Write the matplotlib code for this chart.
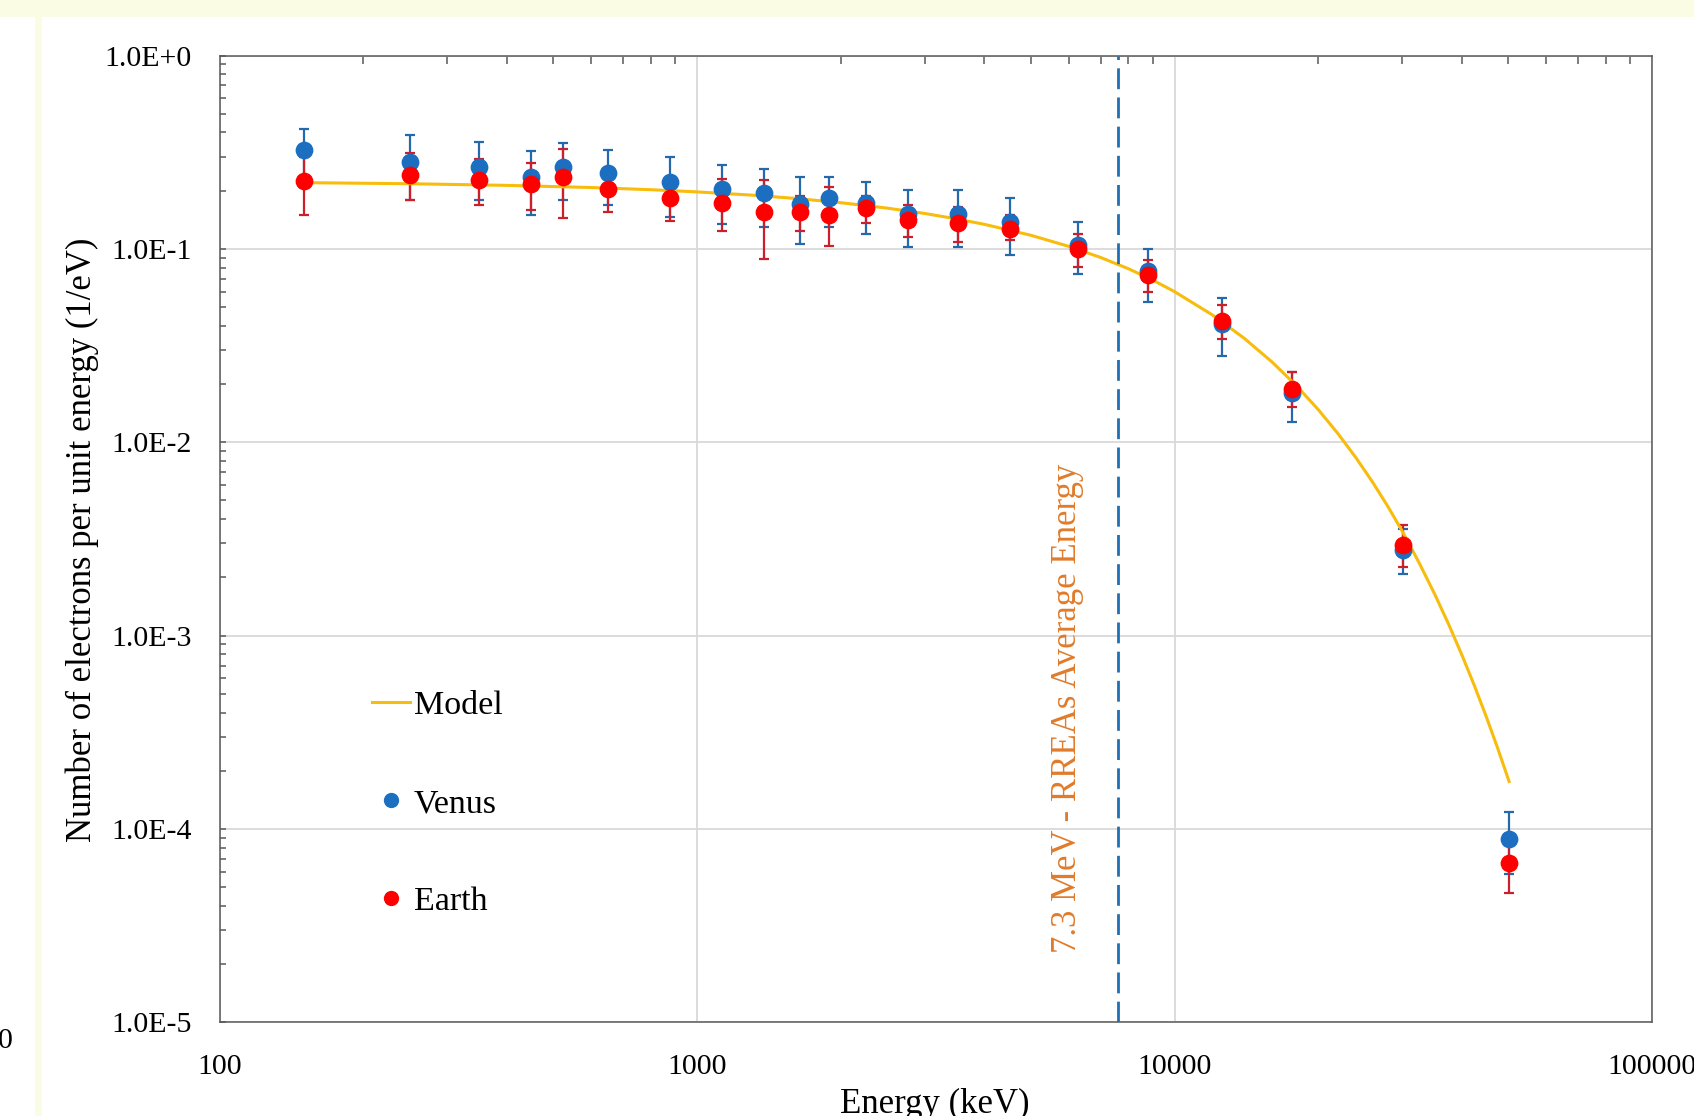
import matplotlib
matplotlib.use("Agg")
import numpy as np
import matplotlib.pyplot as plt
from matplotlib.ticker import LogLocator, FixedLocator, FixedFormatter, NullFormatter
from matplotlib.patches import Rectangle

# ---------------- data ----------------
energy = [150, 250, 350, 450, 525, 650, 880, 1130, 1380, 1640, 1890, 2260,
          2770, 3520, 4520, 6280, 8780, 12600, 17600, 30100, 50200]

venus = [0.323, 0.283, 0.265, 0.235, 0.265, 0.246, 0.222, 0.203, 0.194, 0.170,
         0.183, 0.172, 0.151, 0.151, 0.138, 0.105, 0.0767, 0.041, 0.0180,
         0.00278, 8.9e-5]
venus_lo = [0.23, 0.179, 0.179, 0.149, 0.179, 0.168, 0.147, 0.134, 0.130, 0.106,
            0.130, 0.120, 0.102, 0.102, 0.0925, 0.0738, 0.0531, 0.0279, 0.0127,
            0.00208, 5.83e-5]
venus_hi = [0.415, 0.388, 0.357, 0.321, 0.352, 0.325, 0.300, 0.273, 0.260, 0.235,
            0.234, 0.222, 0.201, 0.201, 0.183, 0.138, 0.100, 0.0554, 0.0231,
            0.00356, 1.22e-4]

earth = [0.224, 0.241, 0.226, 0.216, 0.234, 0.203, 0.184, 0.173, 0.155, 0.155,
         0.150, 0.162, 0.141, 0.136, 0.127, 0.0994, 0.0729, 0.0425, 0.01875,
         0.00295, 6.65e-5]
earth_lo = [0.150, 0.179, 0.168, 0.158, 0.144, 0.155, 0.139, 0.123, 0.0883, 0.123,
            0.104, 0.136, 0.115, 0.108, 0.111, 0.0809, 0.0598, 0.0343, 0.0152,
            0.00226, 4.69e-5]
earth_hi = [0.30, 0.315, 0.290, 0.279, 0.330, 0.26, 0.235, 0.229, 0.226, 0.188,
            0.21, 0.188, 0.168, 0.165, 0.15, 0.119, 0.0875, 0.0514, 0.0231,
            0.00371, 8.5e-5]

model_energy = [150, 250, 400, 600, 800, 1000, 1300, 1600, 2000, 2500, 3000, 3500,
                4000, 5000, 6000, 7000, 8000, 9000, 10000, 12000, 14000, 16000,
                18000, 20000, 22000, 24000, 26000, 28000, 30000, 32500, 35000,
                37500, 40000, 42500, 45000, 47500, 50200]
model_value = [0.220, 0.2172, 0.2130, 0.2076, 0.2023, 0.1971, 0.1897, 0.1825,
               0.1733, 0.1625, 0.1524, 0.1428, 0.1339, 0.1176, 0.1031, 0.0903,
               0.0790, 0.0690, 0.0601, 0.04556, 0.03446, 0.02602, 0.01961,
               0.01475, 0.01107, 0.00830, 0.00621, 0.00464, 0.00346, 0.00239,
               0.001655, 0.001145, 0.000792, 0.000548, 0.000379, 0.000262, 0.000176]

avg_energy_line = 7600
avg_energy_label = "7.3 MeV - RREAs Average Energy"

x_ticks = [100, 1000, 10000, 100000]
x_tick_labels = ["100", "1000", "10000", "100000"]
y_ticks = [1e-5, 1e-4, 1e-3, 1e-2, 1e-1, 1.0]
y_tick_labels = ["1.0E-5", "1.0E-4", "1.0E-3", "1.0E-2", "1.0E-1", "1.0E+0"]

# ---------------- figure ----------------
plt.rcParams['font.family'] = ['Liberation Serif', 'DejaVu Serif']
W, H = 1694, 1116
fig = plt.figure(figsize=(W / 100, H / 100), dpi=100)
fig.patch.set_facecolor('white')

# pale yellow frame strips of the original screenshot
fig.patches.append(Rectangle((0, 1 - 17 / H), 1, 17 / H, transform=fig.transFigure,
                             facecolor='#FAFCE4', edgecolor='none', zorder=0))
fig.patches.append(Rectangle((35 / W, 0), 7 / W, 1 - 17 / H, transform=fig.transFigure,
                             facecolor='#FAFCE4', edgecolor='none', zorder=0))

ax = fig.add_axes([219.5 / W, (H - 1022.3) / H, (1652 - 219.5) / W, (1022.3 - 55.5) / H])
ax.set_xscale('log')
ax.set_yscale('log')
ax.set_xlim(100, 100000)
ax.set_ylim(1e-5, 1)

ax.grid(which='major', color='#D9D9D9', lw=1.3)
ax.set_axisbelow(True)

venus_err = [np.subtract(venus, venus_lo), np.subtract(venus_hi, venus)]
earth_err = [np.subtract(earth, earth_lo), np.subtract(earth_hi, earth)]

ax.errorbar(energy, venus, yerr=venus_err, fmt='none', ecolor='#2569AA',
            elinewidth=1.6, capsize=3.6, capthick=1.6, zorder=2)
ax.errorbar(energy, earth, yerr=earth_err, fmt='none', ecolor='#CC1F2B',
            elinewidth=1.6, capsize=3.6, capthick=1.6, zorder=2.1)

model_line, = ax.plot(model_energy, model_value, color='#F8BC0C', lw=2.2,
                      zorder=2.5, label='Model', solid_joinstyle='round')
ax.axvline(avg_energy_line, color='#1F6FB5', lw=2, dashes=(7.5, 3), zorder=2.6)

venus_pts, = ax.plot(energy, venus, 'o', ms=12.8, color='#1B6EC0', mew=0,
                     zorder=3, label='Venus')
earth_pts, = ax.plot(energy, earth, 'o', ms=12.8, color='#FF0000', mew=0,
                     zorder=4, label='Earth')

# ticks
ax.xaxis.set_major_locator(FixedLocator(x_ticks))
ax.xaxis.set_major_formatter(FixedFormatter(x_tick_labels))
ax.xaxis.set_minor_locator(LogLocator(base=10, subs=range(2, 10), numticks=100))
ax.xaxis.set_minor_formatter(NullFormatter())
ax.yaxis.set_major_locator(FixedLocator(y_ticks))
ax.yaxis.set_major_formatter(FixedFormatter(y_tick_labels))
ax.yaxis.set_minor_locator(LogLocator(base=10, subs=range(2, 10), numticks=100))
ax.yaxis.set_minor_formatter(NullFormatter())

ax.tick_params(axis='x', which='major', bottom=False, top=False, labelsize=21.5,
               pad=19, labelcolor='black')
ax.tick_params(axis='x', which='minor', bottom=False, top=True, direction='in',
               length=6, width=1.1, color='#595959')
ax.tick_params(axis='y', which='both', left=True, right=False, direction='in',
               length=4.3, width=1.1, color='#595959')
ax.tick_params(axis='y', which='major', labelsize=21.5, pad=20, labelcolor='black')

for sp in ax.spines.values():
    sp.set_color('#595959')
    sp.set_linewidth(1.1)

# annotation for average energy
fig.text(1067 / W, 1 - 708.5 / H, avg_energy_label, rotation=90, ha='center',
         va='center', fontsize=25, color='#E07B2A')

# axis labels
fig.text(82 / W, 1 - 540 / H, "Number of electrons per unit energy (1/eV)",
         rotation=90, ha='center', va='center', fontsize=25)
fig.text(935 / W, 3 / H, "Energy (keV)", ha='center', va='baseline', fontsize=25)

# clipped stray label at the far left of the screenshot
fig.text(13 / W, 1 - 1041 / H, "0", ha='right', va='center', fontsize=21.5)

# legend
ax.legend(handles=[model_line, venus_pts, earth_pts], loc='upper left',
          bbox_to_anchor=(372 / W, 1 - 690 / H), bbox_transform=fig.transFigure,
          frameon=False, fontsize=24.5, handlelength=1.12, handletextpad=0.1,
          labelspacing=1.98, borderpad=0, borderaxespad=0, markerscale=0.86)

fig.savefig('out.png', dpi=100)
